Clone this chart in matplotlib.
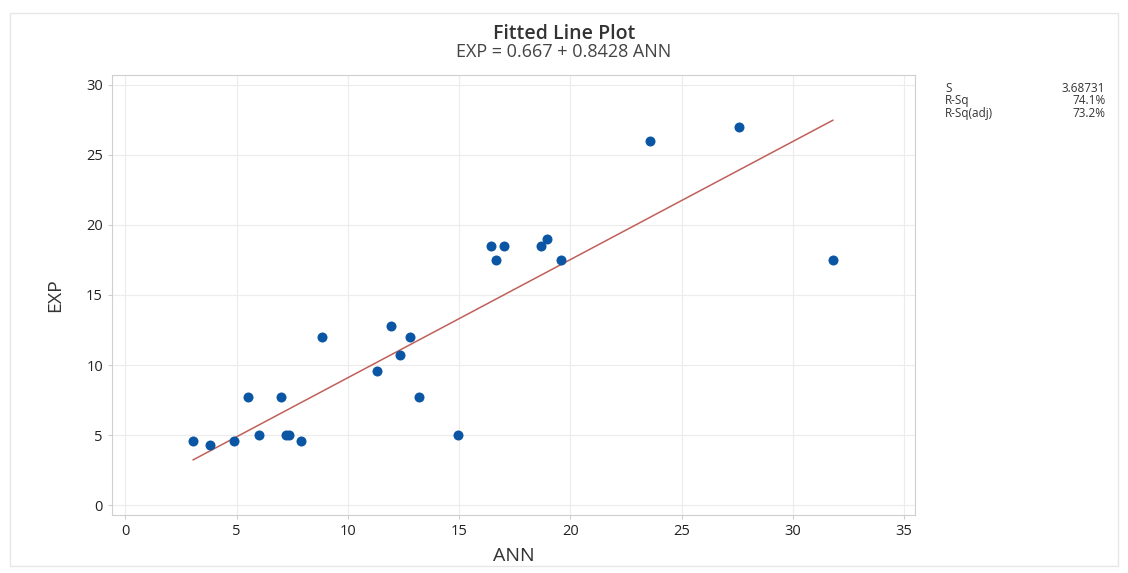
import matplotlib
matplotlib.use("Agg")
import matplotlib.pyplot as plt
from matplotlib.patches import Rectangle

plt.rcParams['font.family'] = ['Open Sans', 'DejaVu Sans']

# data
ann = [3.05, 3.8, 4.9, 5.5, 6.0, 7.0, 7.2, 7.35, 7.9, 8.85, 11.3, 11.95, 12.35,
       12.8, 13.2, 14.95, 16.45, 16.65, 17.0, 18.7, 18.95, 19.6, 23.6, 27.6, 31.8]
exp = [4.6, 4.3, 4.6, 7.7, 5.0, 7.7, 5.0, 5.0, 4.6, 12.0, 9.6, 12.8, 10.7,
       12.0, 7.7, 5.0, 18.5, 17.5, 18.5, 18.5, 19.0, 17.5, 26.0, 27.0, 17.5]
b0 = 0.667
b1 = 0.8428
stat_names = ['S', 'R-Sq', 'R-Sq(adj)']
stat_vals = ['3.68731', '74.1%', '73.2%']
xticks = [0, 5, 10, 15, 20, 25, 30, 35]
yticks = [0, 5, 10, 15, 20, 25, 30]

fig = plt.figure(figsize=(11.28, 5.73), dpi=100)
fig.patches.append(Rectangle((0.009, 0.012), 0.982, 0.965, transform=fig.transFigure,
                             fill=False, edgecolor='#e6e6e6', linewidth=1))
ax = fig.add_axes([0.0993, 0.1012, 0.712, 0.768])

xs = [min(ann), max(ann)]
ax.plot(xs, [b0 + b1 * x for x in xs], color='#c0605a', linewidth=1.1, zorder=2)
ax.scatter(ann, exp, s=52, color='#0b56a4', zorder=3, linewidths=0)

ax.set_xlim(-0.6, 35.5)
ax.set_ylim(-0.7, 30.7)
ax.set_xticks(xticks)
ax.set_yticks(yticks)
ax.grid(True, color='#ececec', linewidth=0.8)
ax.set_axisbelow(True)
for sp in ax.spines.values():
    sp.set_color('#cfcfcf')
ax.tick_params(colors='#cfcfcf', labelcolor='#222222', labelsize=10.5, length=3)

ax.set_xlabel('ANN', fontsize=14, color='#333333', labelpad=6)
ax.set_ylabel('EXP', fontsize=14, color='#333333', labelpad=16)

fig.text(0.5, 0.94, 'Fitted Line Plot', ha='center', va='center', fontsize=14,
         fontweight='semibold', color='#333333')
fig.text(0.5, 0.91, 'EXP = 0.667 + 0.8428 ANN', ha='center', va='center', fontsize=13,
         color='#444444')

for i in range(len(stat_names)):
    yy = 0.846 - i * 0.022
    fig.text(0.838, yy, stat_names[i], ha='left', va='center', fontsize=8.5, color='#333333')
    fig.text(0.98, yy, stat_vals[i], ha='right', va='center', fontsize=8.5, color='#333333')

fig.savefig('out.png', dpi=100)
